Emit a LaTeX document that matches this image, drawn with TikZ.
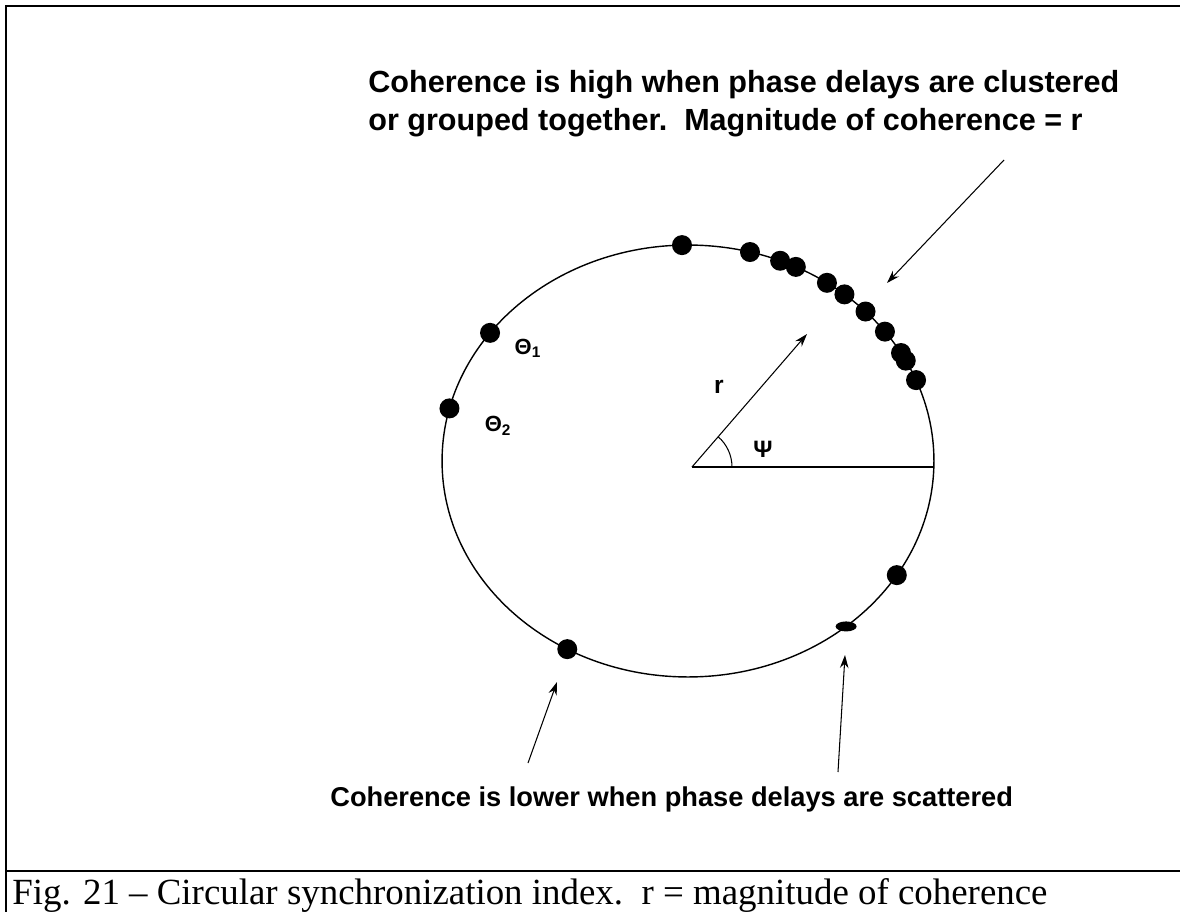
\documentclass[tikz,border=0pt]{standalone}
\usepackage{fontspec}
\setmainfont{Liberation Serif}
\newfontfamily\arialfont{Liberation Sans}
\usetikzlibrary{arrows.meta, calc, shapes.geometric}

\begin{document}
\begin{tikzpicture}[
  x=0.02cm, y=-0.02cm,
  every node/.style={inner sep=0pt},
  note/.style={font=\arialfont\bfseries\fontsize{17.4}{20}\selectfont, anchor=base west},
  sym/.style={font=\arialfont\bfseries\fontsize{14}{16}\selectfont},
  dot/.style={circle, fill=black, minimum size=0.4cm},
  pointer/.style={-{Stealth[length=0.26cm, width=0.17cm]}, line width=0.6pt},
  frame/.style={line width=1.4pt},
]
  \useasboundingbox (0,0) rectangle (1180,912);
  % frame and caption rule
  \draw[frame] (1180,6) -- (6,6) -- (6,912);
  \draw[frame] (6,871) -- (1180,871);
  % phase circle
  \coordinate (c) at (688,461);
  \draw[line width=0.8pt] (c) ellipse [x radius=4.92cm, y radius=4.32cm];
  % phase delays on the circle
  \foreach \a [count=\i] in {91.4,75.4,68,64,55.6,50.5,43.8,36.8,30,27.7,22,143.6,165.9,240.6,328.1}
    \node[dot] (p\i) at ($(c)+(\a:4.92cm and 4.32cm)$) {};
  \node[ellipse, fill=black, minimum width=0.42cm, minimum height=0.2cm] (q) at ($(c)+(310:4.92cm and 4.32cm)$) {};
  % resultant vector and angle
  \coordinate (o) at (692,467);
  \coordinate (e) at (934,467);
  \coordinate (tip) at (807,334);
  \draw[line width=0.8pt] (o) -- (e);
  \draw[pointer] (o) -- (tip);
  \draw[line width=0.6pt] ($(o)+(0.8cm,0)$) arc [start angle=0, end angle=49, radius=0.8cm];
  \node[sym] (r) at (719,387) {r};
  \node[sym, font=\arialfont\bfseries\fontsize{13.5}{16}\selectfont] (psi) at (763,449) {Ψ};
  \node[sym, font=\arialfont\bfseries\fontsize{12.5}{14}\selectfont] (t1) at (528,348) {Θ\textsubscript{1}};
  \node[sym, font=\arialfont\bfseries\fontsize{12.5}{14}\selectfont] (t2) at (498,426) {Θ\textsubscript{2}};
  % labels
  \node[note] (high1) at (368,93) {Coherence is high when phase delays are clustered};
  \node[note] (high2) at (368,131) {or grouped together.\ \ Magnitude of coherence = r};
  \node[note, font=\arialfont\bfseries\fontsize{15.5}{18}\selectfont] (low) at (330,806) {Coherence is lower when phase delays are scattered};
  % pointers
  \coordinate (a1) at (1004,160);
  \coordinate (a1e) at (887,283);
  \coordinate (a2) at (528,763);
  \coordinate (a2e) at (557,682);
  \coordinate (a3) at (838,772);
  \coordinate (a3e) at (845,655);
  \draw[pointer] (a1) -- (a1e);
  \draw[pointer] (a2) -- (a2e);
  \draw[pointer] (a3) -- (a3e);
  % caption
  \node[anchor=base west, font=\fontsize{21}{24}\selectfont] (cap) at (12,904)
    {Fig. 21 – Circular synchronization index.\ \ r = magnitude of coherence};
\end{tikzpicture}
\end{document}
